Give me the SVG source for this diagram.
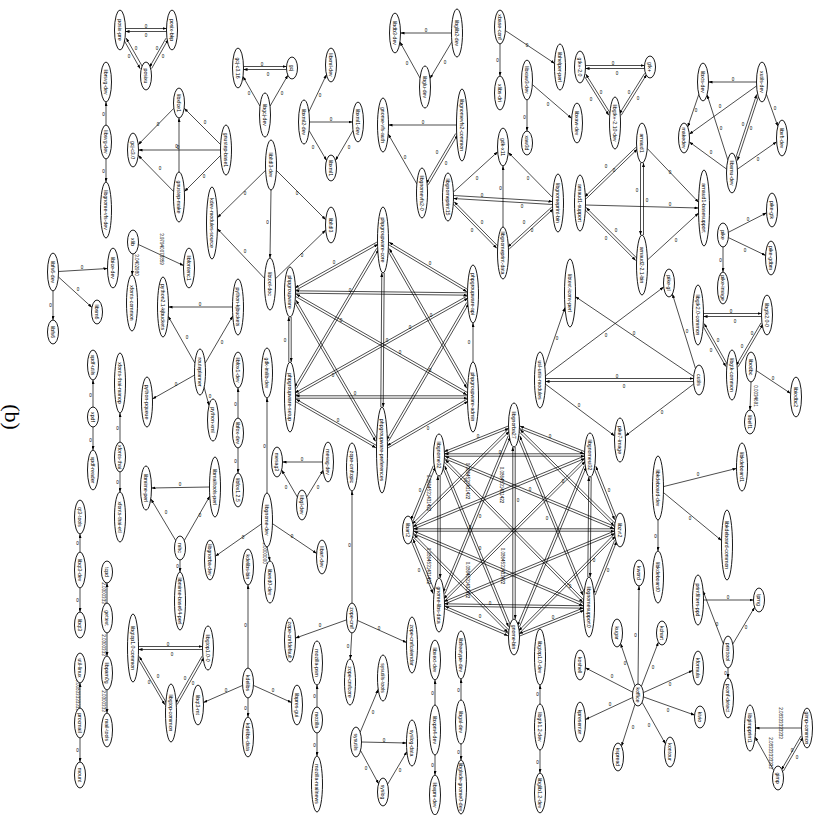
<svg xmlns="http://www.w3.org/2000/svg" width="820" height="815" viewBox="0 0 820 815">
<style>
.n ellipse{fill:#fff;stroke:#000;stroke-width:0.9}
.n text{font-family:"Liberation Sans",Arial,sans-serif;font-size:5.2px;text-anchor:middle;dominant-baseline:central;fill:#000}
#edges path{stroke:#000;stroke-width:0.7;fill:none;marker-end:url(#ah)}
.l{font-family:"Liberation Sans",Arial,sans-serif;font-size:4.5px;fill:#000;text-anchor:middle;dominant-baseline:central}
.cap{font-family:"Liberation Serif","Times New Roman",serif;font-size:22px;text-anchor:middle;dominant-baseline:central}
</style>
<defs>
<marker id="ah" markerWidth="4" markerHeight="3" refX="4" refY="1.5" orient="auto" markerUnits="userSpaceOnUse"><path d="M0,0L4,1.5L0,3z" fill="#000"/></marker>
</defs>
<rect width="820" height="815" fill="#fff"/>
<text class="cap" transform="translate(12 417) rotate(90)">(b)</text>
<g id="edges">
<path d="M125.5 28.5L166.5 28.5"/><path d="M166.5 31.5L125.5 31.5"/>
<path d="M123.6 39.5L140.2 68.7"/><path d="M142.8 67.3L126.2 38.1"/>
<path d="M166 38.2L149.4 67.4"/><path d="M151.6 68.6L168.2 39.4"/>
<path d="M106 125L106 102"/><path d="M106 159L106 182"/>
<path d="M179 172L179 118"/><path d="M173.6 191.5L138.2 155.3"/><path d="M173.8 108.3L138.2 144.7"/>
<path d="M220.6 144.6L184.2 108.2"/><path d="M220.5 150L138.5 150"/><path d="M220.6 155.4L184.4 191.6"/>
<path d="M138.4 244.5L183.5 265.5"/><path d="M133 254L132.2 275"/>
<path d="M58.5 271.5L107.5 268.5"/><path d="M58.3 276.8L91.9 307.4"/><path d="M53 291L53 320"/>
<path d="M243.5 66.5L286.5 66.5"/><path d="M286.5 69.5L243.5 69.5"/>
<path d="M260 106.2L243 76.6"/><path d="M270 106.2L287.9 75.2"/>
<path d="M308.9 111.7L326.5 74.6"/><path d="M309.5 122L352.5 122"/><path d="M309.1 130.6L326.5 160.4"/><path d="M353 130.5L335.5 160.4"/>
<path d="M456.5 125L388.5 125"/><path d="M416.9 184L388.2 134"/>
<path d="M428.2 184.8L457.7 134.7"/><path d="M455.7 133.5L426.2 183.6"/>
<path d="M265.6 170.3L217.4 217.7"/><path d="M276.4 170.4L325.7 219.7"/><path d="M271 190L270 258"/>
<path d="M264.6 278.4L217.4 228.7"/><path d="M275.4 278.8L325.7 230.1"/>
<path d="M451.5 33L400.5 33"/><path d="M420 78L399.9 41.9"/><path d="M451.9 41.7L430 78.5"/>
<path d="M500 44L500 76"/><path d="M505.4 30.6L554.6 63.4"/>
<path d="M532.4 84.6L571.6 118.4"/><path d="M527 100L527 131"/>
<path d="M585.5 65.5L644.5 65.5"/><path d="M644.5 68.5L585.5 68.5"/>
<path d="M610.8 114.1L585.8 74.1"/><path d="M583.8 75.3L608.8 115.3"/>
<path d="M621.2 115.3L646.7 74.5"/><path d="M644.7 73.3L619.2 114.1"/>
<path d="M453.4 192.1L497.7 151.8"/><path d="M552.6 197.5L508.3 152.4"/><path d="M503 227L503 166"/>
<path d="M453.5 195.5L552.5 201.5"/><path d="M552.5 204.5L453.5 198.5"/>
<path d="M452.5 203.3L496.8 248.3"/><path d="M498.5 246.7L454.2 201.7"/>
<path d="M551.8 207L507.6 247.2"/><path d="M509.2 249L553.4 208.8"/>
<path d="M586.2 198.7L637.5 149"/><path d="M635.9 147.3L584.6 196.9"/>
<path d="M584.5 209.3L635.7 260.5"/><path d="M637.5 258.8L586.2 207.6"/>
<path d="M585.5 205L698.5 208"/>
<path d="M640.5 163L640.5 235"/><path d="M643.5 235L643.5 163"/>
<path d="M647.3 148.5L698.6 202.3"/><path d="M647.4 260L698.6 213"/>
<path d="M756.5 82L708.5 82"/><path d="M756.6 85.9L689.3 134.2"/>
<path d="M758.9 95.2L737.4 160.6"/><path d="M735.1 159.8L756.7 94.4"/>
<path d="M766.4 94.2L777.8 126.3"/><path d="M698.8 94.4L687.7 127"/><path d="M727.8 159.9L707.1 94.8"/>
<path d="M726.6 169.1L689.3 141.9"/><path d="M737.4 169.2L776.6 141.8"/>
<path d="M728.4 232.3L766.6 212.8"/><path d="M728.4 237.6L765.6 255.4"/><path d="M723 247L723 272"/>
<path d="M544.8 366.1L565 307.5"/><path d="M693.7 376.4L575.5 296.7"/><path d="M545.4 375.9L663.7 287"/><path d="M695.5 368.5L672.4 294"/>
<path d="M545.5 378.5L693.5 378.5"/><path d="M693.5 381.5L545.5 381.5"/>
<path d="M545.4 384.1L614.6 435.9"/><path d="M693.7 384L625.4 435.9"/>
<path d="M703.5 313.5L761.5 313.5"/><path d="M761.5 316.5L703.5 316.5"/>
<path d="M727.9 365.4L704.2 323.6"/><path d="M702.2 324.8L725.9 366.6"/>
<path d="M738.1 366.8L763 324.1"/><path d="M761 322.9L736.1 365.6"/>
<path d="M751 382L750 410"/><path d="M756.3 370.6L790.6 393.4"/>
<path d="M663.5 486.6L736.5 468.4"/><path d="M663.4 492.5L721.5 540.5"/><path d="M658 520L658 551"/>
<path d="M376.9 242.1L294.9 288"/><path d="M296.1 290.1L378.1 244.2"/>
<path d="M376.7 248.3L294.3 387.4"/><path d="M296.3 388.6L378.7 249.5"/>
<path d="M384.2 273L383.2 407"/><path d="M380.8 407L381.8 273"/>
<path d="M387.3 249.8L466.7 388.3"/><path d="M468.7 387.1L389.3 248.6"/>
<path d="M387.9 244.3L466.9 291.7"/><path d="M468.1 289.7L389.1 242.3"/>
<path d="M291.2 317L291.2 362"/><path d="M288.8 362L288.8 317"/>
<path d="M294.1 301.4L375.6 441.4"/><path d="M377.6 440.2L296.1 300.2"/>
<path d="M294.9 296.1L466.9 394.9"/><path d="M468.1 392.9L296.1 294.1"/>
<path d="M295.5 293.2L467.5 295.2"/><path d="M467.5 292.8L295.5 290.8"/>
<path d="M294.9 401.2L375.9 447.8"/><path d="M377.1 445.8L296.1 399.2"/>
<path d="M295.5 398.2L467.5 398.2"/><path d="M467.5 395.8L295.5 395.8"/>
<path d="M296.1 394.9L468.1 298.1"/><path d="M466.9 296.1L294.9 392.9"/>
<path d="M388.1 447.8L468.1 401.2"/><path d="M466.9 399.2L386.9 445.8"/>
<path d="M388.4 441.4L468.8 303.6"/><path d="M466.8 302.4L386.4 440.2"/>
<path d="M473 362L473 323"/>
<path d="M508.1 426.1L444.1 451.7"/><path d="M444.9 453.9L508.9 428.3"/>
<path d="M519.1 428.3L584.1 453.9"/><path d="M584.9 451.7L519.9 426.1"/>
<path d="M507.9 429.5L412.3 524"/><path d="M413.9 525.8L509.5 431.2"/>
<path d="M518.5 431.2L614 525.7"/><path d="M615.6 523.9L520.1 429.5"/>
<path d="M508.2 435.8L442.8 592.6"/><path d="M445 593.6L510.4 436.8"/>
<path d="M517.6 436.9L582.9 595.3"/><path d="M585.1 594.3L519.8 435.9"/>
<path d="M515.2 447L515.2 619"/><path d="M512.8 619L512.8 447"/>
<path d="M444.5 456.2L584.5 456.2"/><path d="M584.5 453.8L444.5 453.8"/>
<path d="M433.3 465.7L410.9 519.9"/><path d="M413.1 520.9L435.5 466.7"/>
<path d="M444 458.4L614.1 528.8"/><path d="M615.1 526.6L445 456.2"/>
<path d="M440.2 476L440.2 578"/><path d="M437.8 578L437.8 476"/>
<path d="M443.5 461.2L582.8 602.3"/><path d="M584.5 600.7L445.2 459.6"/>
<path d="M442.5 466.8L508.5 626.8"/><path d="M510.7 625.8L444.7 465.8"/>
<path d="M584 456.2L412.9 526.7"/><path d="M413.9 528.9L585 458.4"/>
<path d="M593.6 467.2L614.6 519.8"/><path d="M616.8 518.8L595.8 466.2"/>
<path d="M583.9 459.5L443.6 598.8"/><path d="M445.2 600.5L585.5 461.2"/>
<path d="M591.2 477L590.2 577"/><path d="M587.8 577L588.8 477"/>
<path d="M584.2 465.8L517.3 625.9"/><path d="M519.5 626.9L586.4 466.8"/>
<path d="M413.5 531.2L614.5 531.2"/><path d="M614.5 528.8L413.5 528.8"/>
<path d="M410.9 540.1L433 593.6"/><path d="M435.2 592.6L413.1 539.1"/>
<path d="M412.9 533.4L583 605.8"/><path d="M584 603.6L413.9 531.2"/>
<path d="M412.3 536L507.9 632.5"/><path d="M509.6 630.9L414 534.4"/>
<path d="M614 531.2L444 601.6"/><path d="M445 603.8L615 533.4"/>
<path d="M614.6 540.3L592.9 594.2"/><path d="M595.1 595.1L616.8 541.2"/>
<path d="M614 534.5L518.5 630.9"/><path d="M520.2 632.5L615.7 536.1"/>
<path d="M444.5 606.2L583.5 608.2"/><path d="M583.5 605.8L444.5 603.8"/>
<path d="M444 608.4L508 635.8"/><path d="M509 633.6L445 606.2"/>
<path d="M583 608.1L519 633.7"/><path d="M520 635.9L584 610.3"/>
<path d="M194.9 363.1L168.2 316.2"/><path d="M194.5 375.1L152.5 398.9"/><path d="M232.5 307L168.5 307"/>
<path d="M205.1 363.3L232.8 315.9"/><path d="M204.1 387.2L209 405.4"/>
<path d="M238 418L238 388"/><path d="M238 448L238 473"/>
<path d="M93 407L93 380"/><path d="M93 427L93 450"/>
<path d="M120 442L120 413"/><path d="M120 472L120 492"/>
<path d="M209.5 487L151.5 488"/><path d="M175.7 540.5L151 499.1"/><path d="M184.3 540.5L209.8 496.1"/><path d="M180 560L180 572"/>
<path d="M80 552L80 534"/><path d="M80 588L80 612"/>
<path d="M107 603L107 583"/><path d="M107 633L107 656"/><path d="M107 690L107 713"/>
<path d="M80 708L80 683"/><path d="M80 738L80 762"/>
<path d="M138.5 646.5L202.5 646.5"/><path d="M202.5 649.5L138.5 649.5"/>
<path d="M166.8 703.5L139.3 656.5"/><path d="M137.3 657.7L164.8 704.7"/>
<path d="M177.1 704.6L204 657.4"/><path d="M202 656.2L175.1 703.4"/>
<path d="M248 668L248 585"/><path d="M248 698L248 717"/><path d="M253.4 685.4L291.5 702.5"/><path d="M242.6 685.4L203.5 702.5"/>
<path d="M267 493L267 398"/><path d="M261.6 523.8L215.4 556.2"/><path d="M272.5 523.7L316.6 553.4"/><path d="M267.1 547L269.9 561"/>
<path d="M322.5 462L282.5 462"/><path d="M297.3 497L281.7 470"/><path d="M306.7 497.2L323 470.3"/>
<path d="M352 603L352 491"/><path d="M346.5 619.9L295.5 638.1"/><path d="M351.8 633L350.3 659"/><path d="M357.4 620.4L406.5 642.5"/>
<path d="M317 707L317 685"/><path d="M317 733L317 756"/>
<path d="M360.2 732.2L378.2 689.3"/><path d="M361.5 742L406.5 743"/><path d="M360.5 750.4L378.6 783.8"/><path d="M387.6 784.3L406.9 751.6"/>
<path d="M435 705L435 680"/><path d="M435 755L435 775"/>
<path d="M461 700L461 679"/><path d="M461 744L461 760"/>
<path d="M540 704L540 685"/><path d="M540 750L540 773"/>
<path d="M638 684L639 586"/><path d="M634.9 685.9L620.6 643.6"/><path d="M641.4 686.3L658.4 642.2"/>
<path d="M643.4 692.6L692.6 670.4"/><path d="M643.4 696.9L694.6 715.1"/><path d="M642.1 702.3L665.4 743.8"/>
<path d="M635 704.2L621.5 746.2"/><path d="M632.6 697.5L585.5 719.5"/><path d="M632.7 692.2L585.4 667.8"/>
<path d="M703.5 600L753.5 600"/><path d="M723.3 643.8L703.1 591.1"/><path d="M732.8 644L754.6 607.3"/><path d="M728 668L728 678"/>
<path d="M801.5 728L755.5 728"/><path d="M773.7 770.4L755.1 737"/>
<path d="M783.3 771.2L803 737.2"/><path d="M801 736L781.3 770"/>
</g>
<g id="edge-labels">
<text class="l" x="146" y="26">0</text><text class="l" x="146" y="35">0</text>
<text class="l" x="136" y="48">0</text><text class="l" x="129" y="56">0</text>
<text class="l" x="157" y="48">0</text><text class="l" x="163" y="56">0</text>
<text class="l" x="103.5" y="114">0</text><text class="l" x="103.5" y="171">0</text>
<text class="l" x="176.5" y="146">0</text><text class="l" x="160" y="168">0</text><text class="l" x="158" y="124">0</text>
<text class="l" x="205" y="122">0</text><text class="l" x="178" y="147.5">0</text><text class="l" x="204" y="176">0</text>
<text class="l" transform="translate(161 249) rotate(90)">3.97940073859</text>
<text class="l" transform="translate(136.5 265) rotate(90)">3.0402980</text>
<text class="l" x="82" y="267">0</text><text class="l" x="78" y="289">0</text><text class="l" x="50.5" y="305">0</text>
<text class="l" x="262" y="64">0</text><text class="l" x="268" y="74.5">0</text>
<text class="l" x="249" y="93">0</text><text class="l" x="282" y="93">0</text>
<text class="l" x="320" y="95">0</text><text class="l" x="331" y="119.5">0</text><text class="l" x="313" y="147">0</text><text class="l" x="349" y="147">0</text>
<text class="l" x="423" y="122.5">0</text><text class="l" x="405" y="157">0</text>
<text class="l" x="446" y="163">0</text><text class="l" x="437" y="152">0</text>
<text class="l" x="245" y="193">0</text><text class="l" x="297" y="193">0</text><text class="l" x="267.5" y="222">0</text>
<text class="l" x="245" y="251">0</text><text class="l" x="302" y="255">0</text>
<text class="l" x="426" y="30.5">0</text><text class="l" x="407" y="63">0</text><text class="l" x="445" y="62">0</text>
<text class="l" x="497.5" y="60">0</text><text class="l" x="527" y="45">0</text>
<text class="l" x="548" y="104">0</text><text class="l" x="524.5" y="117">0</text>
<text class="l" x="613" y="63">0</text><text class="l" x="617" y="73">0</text>
<text class="l" x="601" y="92">0</text><text class="l" x="591" y="99">0</text>
<text class="l" x="629" y="92">0</text><text class="l" x="638" y="98">0</text>
<text class="l" x="477" y="178">0</text><text class="l" x="528" y="178">0</text><text class="l" x="500.5" y="188">0</text>
<text class="l" x="482" y="195">0</text><text class="l" x="522" y="206">0</text>
<text class="l" x="472" y="230">0</text><text class="l" x="482" y="222">0</text>
<text class="l" x="532" y="230">0</text><text class="l" x="524" y="222">0</text>
<text class="l" x="614" y="170">0</text><text class="l" x="606" y="166">0</text>
<text class="l" x="606" y="238">0</text><text class="l" x="616" y="230">0</text>
<text class="l" x="670" y="204">0</text>
<text class="l" x="637" y="190">0</text><text class="l" x="647" y="200">0</text>
<text class="l" x="670" y="172">0</text><text class="l" x="676" y="240">0</text>
<text class="l" x="733" y="79">0</text><text class="l" x="720" y="106">0</text>
<text class="l" x="751" y="128">0</text><text class="l" x="743" y="124">0</text>
<text class="l" x="775" y="108">0</text><text class="l" x="696" y="110">0</text><text class="l" x="721" y="128">0</text>
<text class="l" x="711" y="152">0</text><text class="l" x="758" y="159">0</text>
<text class="l" x="748" y="219">0</text><text class="l" x="745" y="250">0</text><text class="l" x="720.5" y="260">0</text>
<text class="l" x="557" y="338">0</text><text class="l" x="634" y="333">0</text><text class="l" x="606" y="335">0</text><text class="l" x="687" y="331">0</text>
<text class="l" x="617" y="376">0</text><text class="l" x="624" y="386">0</text>
<text class="l" x="579" y="405">0</text><text class="l" x="662" y="412">0</text>
<text class="l" x="731" y="311">0</text><text class="l" x="735" y="321">0</text>
<text class="l" x="718" y="340">0</text><text class="l" x="711" y="350">0</text>
<text class="l" x="752" y="333">0</text><text class="l" x="742" y="346">0</text>
<text class="l" transform="translate(755.5 396) rotate(90)">0.0034691</text>
<text class="l" x="773" y="378">0</text>
<text class="l" x="698" y="474">0</text><text class="l" x="690" y="518">0</text><text class="l" x="655.5" y="536">0</text>
<text class="l" x="334" y="262">0</text><text class="l" x="341" y="320">0</text><text class="l" x="387" y="340">0</text>
<text class="l" x="431" y="315">0</text><text class="l" x="430" y="263">0</text><text class="l" x="285" y="340">0</text>
<text class="l" x="333" y="375">0</text><text class="l" x="400" y="352">0</text><text class="l" x="350" y="290">0</text>
<text class="l" x="338" y="420">0</text><text class="l" x="355" y="393">0</text><text class="l" x="410" y="327">0</text>
<text class="l" x="428" y="428">0</text><text class="l" x="430" y="370">0</text><text class="l" x="469" y="342">0</text>
<text class="l" x="478" y="436">0</text><text class="l" x="550" y="436">0</text><text class="l" x="465" y="480">0</text>
<text class="l" x="563" y="481">0</text><text class="l" x="480" y="516">0</text><text class="l" x="547" y="518">0</text>
<text class="l" x="518" y="500">0</text><text class="l" x="500" y="452">0</text><text class="l" x="420" y="490">0</text>
<text class="l" x="530" y="489">0</text><text class="l" x="480" y="548">0</text><text class="l" x="609" y="490">0</text>
<text class="l" x="594" y="560">0</text><text class="l" x="470" y="527">0</text><text class="l" x="419" y="570">0</text>
<text class="l" x="608" y="570">0</text><text class="l" x="570" y="586">0</text><text class="l" x="490" y="603">0</text>
<text class="l" x="480" y="616">0</text><text class="l" x="553" y="617">0</text>
<text class="l" transform="translate(428 493) rotate(90)">0.0864531431422</text>
<text class="l" transform="translate(428 566) rotate(90)">0.0864531431422</text>
<text class="l" transform="translate(467 481) rotate(90)">0.0864531431422</text>
<text class="l" transform="translate(467 580) rotate(90)">0.0864531431422</text>
<text class="l" transform="translate(501 485) rotate(90)">0.0864531431422</text>
<text class="l" transform="translate(502 566) rotate(90)">0.0864531431422</text>
<text class="l" x="187" y="337">0</text><text class="l" x="176" y="384">0</text><text class="l" x="200" y="304">0</text>
<text class="l" x="222" y="342">0</text><text class="l" x="210" y="396">0</text>
<text class="l" x="235.5" y="404">0</text><text class="l" x="235.5" y="461">0</text>
<text class="l" x="90.5" y="395">0</text><text class="l" x="90.5" y="440">0</text>
<text class="l" x="117.5" y="428">0</text><text class="l" x="117.5" y="482">0</text>
<text class="l" x="180" y="484.5">0</text><text class="l" x="166" y="512">0</text><text class="l" x="200" y="515">0</text><text class="l" x="177.5" y="566">0</text>
<text class="l" x="77.5" y="543">0</text><text class="l" x="77.5" y="600">0</text>
<text class="l" transform="translate(103.5 593) rotate(90)">2.0300333</text>
<text class="l" transform="translate(103.5 645) rotate(90)">2.0300333</text>
<text class="l" transform="translate(103.5 701) rotate(90)">2.0300333</text>
<text class="l" transform="translate(77 695) rotate(90)">0.00833333333</text>
<text class="l" x="77.5" y="750">0</text>
<text class="l" x="168" y="644">0</text><text class="l" x="172" y="654.5">0</text>
<text class="l" x="149" y="682">0</text><text class="l" x="158" y="676">0</text>
<text class="l" x="193" y="683">0</text><text class="l" x="185" y="678">0</text>
<text class="l" x="245.5" y="625">0</text><text class="l" x="245.5" y="708">0</text><text class="l" x="273" y="690">0</text><text class="l" x="226" y="690">0</text>
<text class="l" x="264.5" y="446">0</text><text class="l" x="243" y="537">0</text><text class="l" x="292" y="536">0</text>
<text class="l" transform="translate(264.5 553) rotate(90)">1.0000000</text>
<text class="l" x="302" y="459.5">0</text><text class="l" x="286" y="487">0</text><text class="l" x="318" y="487">0</text>
<text class="l" x="349.5" y="545">0</text><text class="l" x="320" y="625">0</text><text class="l" x="348" y="646">0</text><text class="l" x="379" y="628">0</text>
<text class="l" x="314.5" y="696">0</text><text class="l" x="314.5" y="745">0</text>
<text class="l" x="373" y="712">0</text><text class="l" x="384" y="740">0</text><text class="l" x="366" y="768">0</text><text class="l" x="400" y="770">0</text>
<text class="l" x="432.5" y="693">0</text><text class="l" x="432.5" y="765">0</text>
<text class="l" x="458.5" y="690">0</text><text class="l" x="458.5" y="752">0</text>
<text class="l" x="537.5" y="694">0</text><text class="l" x="537.5" y="762">0</text>
<text class="l" x="635.5" y="635">0</text><text class="l" x="625" y="663">0</text><text class="l" x="653" y="667">0</text>
<text class="l" x="670" y="684">0</text><text class="l" x="668" y="710">0</text><text class="l" x="649" y="725">0</text>
<text class="l" x="633" y="727">0</text><text class="l" x="610" y="704">0</text><text class="l" x="612" y="676">0</text>
<text class="l" x="728" y="597.5">0</text><text class="l" x="717" y="624">0</text><text class="l" x="746" y="627">0</text><text class="l" x="725.5" y="673">0</text>
<text class="l" transform="translate(780 723) rotate(90)">2.08333333333</text>
<text class="l" transform="translate(770 753) rotate(90)">2.08333333333</text>
<text class="l" x="792" y="750">0</text><text class="l" x="797" y="757">0</text>
</g>
<g id="n-posix-pre" class="n" transform="translate(120 30)"><ellipse rx="5.5" ry="20"/><text transform="rotate(90)">posix-pre</text></g>
<g id="n-posix-bkp" class="n" transform="translate(172 30)"><ellipse rx="5.5" ry="20"/><text transform="rotate(90)">posix-bkp</text></g>
<g id="n-posixu" class="n" transform="translate(146 76)"><ellipse rx="5.5" ry="14"/><text transform="rotate(90)">posixu</text></g>
<g id="n-librsvg-dev" class="n" transform="translate(106 82)"><ellipse rx="5.5" ry="20"/><text transform="rotate(90)">librsvg-dev</text></g>
<g id="n-libsvg-dev" class="n" transform="translate(106 142)"><ellipse rx="5.5" ry="17"/><text transform="rotate(90)">libsvg-dev</text></g>
<g id="n-libgnome-vfs-dev" class="n" transform="translate(106 210)"><ellipse rx="5.5" ry="28"/><text transform="rotate(90)">libgnome-vfs-dev</text></g>
<g id="n-libxfce1" class="n" transform="translate(179 103)"><ellipse rx="5.5" ry="15"/><text transform="rotate(90)">libxfce1</text></g>
<g id="n-gcj-c3-0" class="n" transform="translate(133 150)"><ellipse rx="5.5" ry="17"/><text transform="rotate(90)">gcj-c3.0</text></g>
<g id="n-gnustep-make" class="n" transform="translate(179 197)"><ellipse rx="5.5" ry="25"/><text transform="rotate(90)">gnustep-make</text></g>
<g id="n-gnustep-base1" class="n" transform="translate(226 150)"><ellipse rx="5.5" ry="25"/><text transform="rotate(90)">gnustep-base1</text></g>
<g id="n-xlib" class="n" transform="translate(133 242)"><ellipse rx="5.5" ry="12"/><text transform="rotate(90)">xlib</text></g>
<g id="n-libfontenc1" class="n" transform="translate(189 268)"><ellipse rx="5.5" ry="20"/><text transform="rotate(90)">libfontenc1</text></g>
<g id="n-xfonts-common" class="n" transform="translate(132 303)"><ellipse rx="5.5" ry="28"/><text transform="rotate(90)">xfonts-common</text></g>
<g id="n-libfs6-dev" class="n" transform="translate(53 272)"><ellipse rx="5.5" ry="19"/><text transform="rotate(90)">libfs6-dev</text></g>
<g id="n-libice-dev" class="n" transform="translate(113 268)"><ellipse rx="5.5" ry="20"/><text transform="rotate(90)">libice-dev</text></g>
<g id="n-libsm6" class="n" transform="translate(97 312)"><ellipse rx="5.5" ry="12"/><text transform="rotate(90)">libsm6</text></g>
<g id="n-libfs6" class="n" transform="translate(53 332)"><ellipse rx="5.5" ry="12"/><text transform="rotate(90)">libfs6</text></g>
<g id="n-gcj-c3-16" class="n" transform="translate(238 68)"><ellipse rx="5.5" ry="20"/><text transform="rotate(90)">gcj-c3.16</text></g>
<g id="n-gcj" class="n" transform="translate(292 68)"><ellipse rx="5.5" ry="11"/><text transform="rotate(90)">gcj</text></g>
<g id="n-libgcj-dev" class="n" transform="translate(265 115)"><ellipse rx="5.5" ry="22"/><text transform="rotate(90)">libgcj-dev</text></g>
<g id="n-libxml-dev" class="n" transform="translate(331 65)"><ellipse rx="5.5" ry="17"/><text transform="rotate(90)">libxml-dev</text></g>
<g id="n-libxml2-dev" class="n" transform="translate(304 122)"><ellipse rx="5.5" ry="22"/><text transform="rotate(90)">libxml2-dev</text></g>
<g id="n-libxml1-dev" class="n" transform="translate(358 122)"><ellipse rx="5.5" ry="20"/><text transform="rotate(90)">libxml1-dev</text></g>
<g id="n-libxml1" class="n" transform="translate(331 168)"><ellipse rx="5.5" ry="13"/><text transform="rotate(90)">libxml1</text></g>
<g id="n-gnome-vfs-auth" class="n" transform="translate(383 125)"><ellipse rx="5.5" ry="27"/><text transform="rotate(90)">gnome-vfs-auth</text></g>
<g id="n-libltdl3-dev" class="n" transform="translate(271 165)"><ellipse rx="5.5" ry="25"/><text transform="rotate(90)">libltdl3-dev</text></g>
<g id="n-kdev-modules-source" class="n" transform="translate(212 223)"><ellipse rx="5.5" ry="36"/><text transform="rotate(90)">kdev-modules-source</text></g>
<g id="n-libltdl3" class="n" transform="translate(331 225)"><ellipse rx="5.5" ry="18"/><text transform="rotate(90)">libltdl3</text></g>
<g id="n-libtool-doc" class="n" transform="translate(270 284)"><ellipse rx="5.5" ry="26"/><text transform="rotate(90)">libtool-doc</text></g>
<g id="n-libdb3-dev" class="n" transform="translate(395 33)"><ellipse rx="5.5" ry="20"/><text transform="rotate(90)">libdb3-dev</text></g>
<g id="n-libglib2-dev" class="n" transform="translate(457 33)"><ellipse rx="5.5" ry="24"/><text transform="rotate(90)">libglib2-dev</text></g>
<g id="n-libglu-dev" class="n" transform="translate(425 87)"><ellipse rx="5.5" ry="21"/><text transform="rotate(90)">libglu-dev</text></g>
<g id="n-xbase-conf" class="n" transform="translate(500 27)"><ellipse rx="5.5" ry="17"/><text transform="rotate(90)">xbase-conf</text></g>
<g id="n-xlibs-dri" class="n" transform="translate(500 93)"><ellipse rx="5.5" ry="17"/><text transform="rotate(90)">xlibs-dri</text></g>
<g id="n-libhelper-perl" class="n" transform="translate(560 67)"><ellipse rx="5.5" ry="23"/><text transform="rotate(90)">libhelper-perl</text></g>
<g id="n-libxaw3-dev" class="n" transform="translate(527 80)"><ellipse rx="5.5" ry="20"/><text transform="rotate(90)">libxaw3-dev</text></g>
<g id="n-libxaw-dev" class="n" transform="translate(577 123)"><ellipse rx="5.5" ry="20"/><text transform="rotate(90)">libxaw-dev</text></g>
<g id="n-xaw3d" class="n" transform="translate(527 143)"><ellipse rx="5.5" ry="12"/><text transform="rotate(90)">xaw3d</text></g>
<g id="n-gtk-2-0" class="n" transform="translate(580 67)"><ellipse rx="5.5" ry="16"/><text transform="rotate(90)">gtk+-2.0</text></g>
<g id="n-gtk" class="n" transform="translate(650 67)"><ellipse rx="5.5" ry="11"/><text transform="rotate(90)">gtk+</text></g>
<g id="n-libgtk-2-10-dev" class="n" transform="translate(615 123)"><ellipse rx="5.5" ry="26"/><text transform="rotate(90)">libgtk+-2.10-dev</text></g>
<g id="n-libgnomevfs2-common" class="n" transform="translate(462 125)"><ellipse rx="5.5" ry="36"/><text transform="rotate(90)">libgnomevfs2-common</text></g>
<g id="n-libgnomevfs2-0" class="n" transform="translate(422 193)"><ellipse rx="5.5" ry="25"/><text transform="rotate(90)">libgnomevfs2-0</text></g>
<g id="n-gdk-x11" class="n" transform="translate(503 147)"><ellipse rx="5.5" ry="19"/><text transform="rotate(90)">gdk-x11</text></g>
<g id="n-libgnomeprint15" class="n" transform="translate(448 197)"><ellipse rx="5.5" ry="24"/><text transform="rotate(90)">libgnomeprint15</text></g>
<g id="n-libgnomeprint-bin" class="n" transform="translate(558 203)"><ellipse rx="5.5" ry="29"/><text transform="rotate(90)">libgnomeprint-bin</text></g>
<g id="n-libgnomeprint-data" class="n" transform="translate(503 253)"><ellipse rx="5.5" ry="26"/><text transform="rotate(90)">libgnomeprint-data</text></g>
<g id="n-arnaud1-support" class="n" transform="translate(580 203)"><ellipse rx="5.5" ry="28"/><text transform="rotate(90)">arnaud1-support</text></g>
<g id="n-arnaud1" class="n" transform="translate(642 143)"><ellipse rx="5.5" ry="20"/><text transform="rotate(90)">arnaud1</text></g>
<g id="n-arnaud2" class="n" transform="translate(642 265)"><ellipse rx="5.5" ry="30"/><text transform="rotate(90)">arnaud2-2.1-bin</text></g>
<g id="n-arnaud1-basesupport" class="n" transform="translate(704 208)"><ellipse rx="5.5" ry="38"/><text transform="rotate(90)">arnaud1-basesupport</text></g>
<g id="n-libxts-dev" class="n" transform="translate(703 82)"><ellipse rx="5.5" ry="19"/><text transform="rotate(90)">libxts-dev</text></g>
<g id="n-xutils-dev" class="n" transform="translate(762 82)"><ellipse rx="5.5" ry="20"/><text transform="rotate(90)">xutils-dev</text></g>
<g id="n-makedev" class="n" transform="translate(684 138)"><ellipse rx="5.5" ry="15"/><text transform="rotate(90)">makedev</text></g>
<g id="n-libxmu-dev" class="n" transform="translate(732 173)"><ellipse rx="5.5" ry="20"/><text transform="rotate(90)">libxmu-dev</text></g>
<g id="n-libxft-dev" class="n" transform="translate(782 138)"><ellipse rx="5.5" ry="18"/><text transform="rotate(90)">libxft-dev</text></g>
<g id="n-pike" class="n" transform="translate(723 235)"><ellipse rx="5.5" ry="12"/><text transform="rotate(90)">pike</text></g>
<g id="n-pike-gtk" class="n" transform="translate(772 210)"><ellipse rx="5.5" ry="17"/><text transform="rotate(90)">pike-gtk</text></g>
<g id="n-pike-gdbm" class="n" transform="translate(771 258)"><ellipse rx="5.5" ry="17"/><text transform="rotate(90)">pike-gdbm</text></g>
<g id="n-pike-image" class="n" transform="translate(723 288)"><ellipse rx="5.5" ry="16"/><text transform="rotate(90)">pike-image</text></g>
<g id="n-libtext-iconv-perl" class="n" transform="translate(570 293)"><ellipse rx="5.5" ry="34"/><text transform="rotate(90)">libtext-iconv-perl</text></g>
<g id="n-pike-gl" class="n" transform="translate(669 283)"><ellipse rx="5.5" ry="14"/><text transform="rotate(90)">pike-gl</text></g>
<g id="n-libgtk2-0-common" class="n" transform="translate(698 315)"><ellipse rx="5.5" ry="30"/><text transform="rotate(90)">libgtk2.0-common</text></g>
<g id="n-libgtk2-0-0" class="n" transform="translate(767 315)"><ellipse rx="5.5" ry="20"/><text transform="rotate(90)">libgtk2.0-0</text></g>
<g id="n-libgtk-common" class="n" transform="translate(732 375)"><ellipse rx="5.5" ry="25"/><text transform="rotate(90)">libgtk-common</text></g>
<g id="n-cutils" class="n" transform="translate(699 380)"><ellipse rx="5.5" ry="15"/><text transform="rotate(90)">cutils</text></g>
<g id="n-libodbc" class="n" transform="translate(751 367)"><ellipse rx="5.5" ry="15"/><text transform="rotate(90)">libodbc</text></g>
<g id="n-libelf1" class="n" transform="translate(750 422)"><ellipse rx="5.5" ry="12"/><text transform="rotate(90)">libelf1</text></g>
<g id="n-libiodbc2" class="n" transform="translate(796 397)"><ellipse rx="5.5" ry="20"/><text transform="rotate(90)">libiodbc2</text></g>
<g id="n-pike7-image" class="n" transform="translate(620 440)"><ellipse rx="5.5" ry="22"/><text transform="rotate(90)">pike7-image</text></g>
<g id="n-usl-unix-modules" class="n" transform="translate(540 380)"><ellipse rx="5.5" ry="28"/><text transform="rotate(90)">usl-unix-modules</text></g>
<g id="n-libkdeboard-dev" class="n" transform="translate(658 488)"><ellipse rx="5.5" ry="32"/><text transform="rotate(90)">libkdeboard-dev</text></g>
<g id="n-libkdeboard1" class="n" transform="translate(742 467)"><ellipse rx="5.5" ry="24"/><text transform="rotate(90)">libkdeboard1</text></g>
<g id="n-libkdeboard-common" class="n" transform="translate(727 545)"><ellipse rx="5.5" ry="35"/><text transform="rotate(90)">libkdeboard-common</text></g>
<g id="n-libkdeboard0" class="n" transform="translate(658 577)"><ellipse rx="5.5" ry="26"/><text transform="rotate(90)">libkdeboard0</text></g>
<g id="n-phpgroupware-core" class="n" transform="translate(383 240)"><ellipse rx="5.5" ry="33"/><text transform="rotate(90)">phpgroupware-core</text></g>
<g id="n-phpgroupware" class="n" transform="translate(290 292)"><ellipse rx="5.5" ry="25"/><text transform="rotate(90)">phpgroupware</text></g>
<g id="n-phpgroupware-setup" class="n" transform="translate(290 397)"><ellipse rx="5.5" ry="35"/><text transform="rotate(90)">phpgroupware-setup</text></g>
<g id="n-phpgroupware-preferences" class="n" transform="translate(382 450)"><ellipse rx="5.5" ry="43"/><text transform="rotate(90)">phpgroupware-preferences</text></g>
<g id="n-phpgroupware-admin" class="n" transform="translate(473 397)"><ellipse rx="5.5" ry="35"/><text transform="rotate(90)">phpgroupware-admin</text></g>
<g id="n-phpgroupware-api" class="n" transform="translate(473 294)"><ellipse rx="5.5" ry="29"/><text transform="rotate(90)">phpgroupware-api</text></g>
<g id="n-libgnorba27" class="n" transform="translate(514 425)"><ellipse rx="5.5" ry="22"/><text transform="rotate(90)">libgnorba27</text></g>
<g id="n-libgnome32" class="n" transform="translate(439 455)"><ellipse rx="5.5" ry="21"/><text transform="rotate(90)">libgnome32</text></g>
<g id="n-libgnomeui32" class="n" transform="translate(590 455)"><ellipse rx="5.5" ry="22"/><text transform="rotate(90)">libgnomeui32</text></g>
<g id="n-libart2" class="n" transform="translate(408 530)"><ellipse rx="5.5" ry="14"/><text transform="rotate(90)">libart2</text></g>
<g id="n-libzvt2" class="n" transform="translate(620 530)"><ellipse rx="5.5" ry="17"/><text transform="rotate(90)">libzvt2</text></g>
<g id="n-gnome-libs-data" class="n" transform="translate(439 605)"><ellipse rx="5.5" ry="27"/><text transform="rotate(90)">gnome-libs-data</text></g>
<g id="n-libgnomesupport0" class="n" transform="translate(589 607)"><ellipse rx="5.5" ry="30"/><text transform="rotate(90)">libgnomesupport0</text></g>
<g id="n-gnome-bin" class="n" transform="translate(514 637)"><ellipse rx="5.5" ry="18"/><text transform="rotate(90)">gnome-bin</text></g>
<g id="n-python2-1-kjbuckets" class="n" transform="translate(163 307)"><ellipse rx="5.5" ry="30"/><text transform="rotate(90)">python2.1-kjbuckets</text></g>
<g id="n-routeplanner" class="n" transform="translate(200 372)"><ellipse rx="5.5" ry="23"/><text transform="rotate(90)">routeplanner</text></g>
<g id="n-python-pqueue" class="n" transform="translate(147 402)"><ellipse rx="5.5" ry="25"/><text transform="rotate(90)">python-pqueue</text></g>
<g id="n-python-kjbuckets" class="n" transform="translate(238 307)"><ellipse rx="5.5" ry="28"/><text transform="rotate(90)">python-kjbuckets</text></g>
<g id="n-python-xml" class="n" transform="translate(213 420)"><ellipse rx="5.5" ry="21"/><text transform="rotate(90)">python-xml</text></g>
<g id="n-libfox1-dev" class="n" transform="translate(238 370)"><ellipse rx="5.5" ry="18"/><text transform="rotate(90)">libfox1-dev</text></g>
<g id="n-libfox-dev" class="n" transform="translate(238 433)"><ellipse rx="5.5" ry="15"/><text transform="rotate(90)">libfox-dev</text></g>
<g id="n-libfox1-2-5" class="n" transform="translate(238 490)"><ellipse rx="5.5" ry="17"/><text transform="rotate(90)">libfox1.2.5</text></g>
<g id="n-xpdf-utils" class="n" transform="translate(93 365)"><ellipse rx="5.5" ry="15"/><text transform="rotate(90)">xpdf-utils</text></g>
<g id="n-xpdf" class="n" transform="translate(93 417)"><ellipse rx="5.5" ry="10"/><text transform="rotate(90)">xpdf</text></g>
<g id="n-xpdf-reader" class="n" transform="translate(93 470)"><ellipse rx="5.5" ry="20"/><text transform="rotate(90)">xpdf-reader</text></g>
<g id="n-xfonts-thai-manop" class="n" transform="translate(120 383)"><ellipse rx="5.5" ry="30"/><text transform="rotate(90)">xfonts-thai-manop</text></g>
<g id="n-xfonts-thai" class="n" transform="translate(120 457)"><ellipse rx="5.5" ry="15"/><text transform="rotate(90)">xfonts-thai</text></g>
<g id="n-xfonts-thai-etl" class="n" transform="translate(120 517)"><ellipse rx="5.5" ry="25"/><text transform="rotate(90)">xfonts-thai-etl</text></g>
<g id="n-libmime-perl" class="n" transform="translate(146 488)"><ellipse rx="5.5" ry="22"/><text transform="rotate(90)">libmime-perl</text></g>
<g id="n-libmailtools-perl" class="n" transform="translate(215 487)"><ellipse rx="5.5" ry="30"/><text transform="rotate(90)">libmailtools-perl</text></g>
<g id="n-mhc" class="n" transform="translate(180 548)"><ellipse rx="5.5" ry="12"/><text transform="rotate(90)">mhc</text></g>
<g id="n-libmime-base64-perl" class="n" transform="translate(180 601)"><ellipse rx="5.5" ry="29"/><text transform="rotate(90)">libmime-base64-perl</text></g>
<g id="n-qt3-tools" class="n" transform="translate(80 517)"><ellipse rx="5.5" ry="17"/><text transform="rotate(90)">qt3-tools</text></g>
<g id="n-libqt3-dev" class="n" transform="translate(80 570)"><ellipse rx="5.5" ry="18"/><text transform="rotate(90)">libqt3-dev</text></g>
<g id="n-libqt3" class="n" transform="translate(80 625)"><ellipse rx="5.5" ry="13"/><text transform="rotate(90)">libqt3</text></g>
<g id="n-tcpd" class="n" transform="translate(107 572)"><ellipse rx="5.5" ry="11"/><text transform="rotate(90)">tcpd</text></g>
<g id="n-gettext" class="n" transform="translate(107 618)"><ellipse rx="5.5" ry="15"/><text transform="rotate(90)">gettext</text></g>
<g id="n-libpam0g" class="n" transform="translate(107 673)"><ellipse rx="5.5" ry="17"/><text transform="rotate(90)">libpam0g</text></g>
<g id="n-mail-tools" class="n" transform="translate(107 730)"><ellipse rx="5.5" ry="17"/><text transform="rotate(90)">mail-tools</text></g>
<g id="n-util-linux" class="n" transform="translate(80 668)"><ellipse rx="5.5" ry="15"/><text transform="rotate(90)">util-linux</text></g>
<g id="n-procmail" class="n" transform="translate(80 723)"><ellipse rx="5.5" ry="15"/><text transform="rotate(90)">procmail</text></g>
<g id="n-mount" class="n" transform="translate(80 775)"><ellipse rx="5.5" ry="13"/><text transform="rotate(90)">mount</text></g>
<g id="n-libgtop1-0-common" class="n" transform="translate(133 648)"><ellipse rx="5.5" ry="34"/><text transform="rotate(90)">libgtop1.0-common</text></g>
<g id="n-libgtop-common" class="n" transform="translate(171 713)"><ellipse rx="5.5" ry="29"/><text transform="rotate(90)">libgtop-common</text></g>
<g id="n-libgtop1-0-0" class="n" transform="translate(208 648)"><ellipse rx="5.5" ry="22"/><text transform="rotate(90)">libgtop1.0-0</text></g>
<g id="n-libqt3-mt" class="n" transform="translate(198 705)"><ellipse rx="5.5" ry="20"/><text transform="rotate(90)">libqt3-mt</text></g>
<g id="n-gdk-imlib-dev" class="n" transform="translate(267 373)"><ellipse rx="5.5" ry="25"/><text transform="rotate(90)">gdk-imlib-dev</text></g>
<g id="n-libgnome-dev" class="n" transform="translate(267 520)"><ellipse rx="5.5" ry="27"/><text transform="rotate(90)">libgnome-dev</text></g>
<g id="n-libgnorba-dev" class="n" transform="translate(210 560)"><ellipse rx="5.5" ry="20"/><text transform="rotate(90)">libgnorba-dev</text></g>
<g id="n-libart-dev" class="n" transform="translate(322 557)"><ellipse rx="5.5" ry="17"/><text transform="rotate(90)">libart-dev</text></g>
<g id="n-libesd0-dev" class="n" transform="translate(270 582)"><ellipse rx="5.5" ry="21"/><text transform="rotate(90)">libesd0-dev</text></g>
<g id="n-mesag3" class="n" transform="translate(277 462)"><ellipse rx="5.5" ry="15"/><text transform="rotate(90)">mesag3</text></g>
<g id="n-mesag-dev" class="n" transform="translate(328 462)"><ellipse rx="5.5" ry="20"/><text transform="rotate(90)">mesag-dev</text></g>
<g id="n-libgl-dev" class="n" transform="translate(302 505)"><ellipse rx="5.5" ry="15"/><text transform="rotate(90)">libgl-dev</text></g>
<g id="n-zope-cmftopic" class="n" transform="translate(352 467)"><ellipse rx="5.5" ry="24"/><text transform="rotate(90)">zope-cmftopic</text></g>
<g id="n-zope-cmf" class="n" transform="translate(352 618)"><ellipse rx="5.5" ry="15"/><text transform="rotate(90)">zope-cmf</text></g>
<g id="n-zope-cmfdefault" class="n" transform="translate(290 640)"><ellipse rx="5.5" ry="22"/><text transform="rotate(90)">zope-cmfdefault</text></g>
<g id="n-zope-cmfcore" class="n" transform="translate(350 682)"><ellipse rx="5.5" ry="23"/><text transform="rotate(90)">zope-cmfcore</text></g>
<g id="n-zope-cmfcalendar" class="n" transform="translate(412 645)"><ellipse rx="5.5" ry="28"/><text transform="rotate(90)">zope-cmfcalendar</text></g>
<g id="n-kdelibs-bin" class="n" transform="translate(248 567)"><ellipse rx="5.5" ry="18"/><text transform="rotate(90)">kdelibs-bin</text></g>
<g id="n-kdelibs" class="n" transform="translate(248 683)"><ellipse rx="5.5" ry="15"/><text transform="rotate(90)">kdelibs</text></g>
<g id="n-kdelibs-data" class="n" transform="translate(248 737)"><ellipse rx="5.5" ry="20"/><text transform="rotate(90)">kdelibs-data</text></g>
<g id="n-libpres-gui" class="n" transform="translate(297 705)"><ellipse rx="5.5" ry="20"/><text transform="rotate(90)">libpres-gui</text></g>
<g id="n-mozilla-psm" class="n" transform="translate(317 663)"><ellipse rx="5.5" ry="22"/><text transform="rotate(90)">mozilla-psm</text></g>
<g id="n-mozilla" class="n" transform="translate(317 720)"><ellipse rx="5.5" ry="13"/><text transform="rotate(90)">mozilla</text></g>
<g id="n-mozilla-mailnews" class="n" transform="translate(317 784)"><ellipse rx="5.5" ry="28"/><text transform="rotate(90)">mozilla-mailnews</text></g>
<g id="n-sysutils" class="n" transform="translate(356 742)"><ellipse rx="5.5" ry="15"/><text transform="rotate(90)">sysutils</text></g>
<g id="n-sysutils-tools" class="n" transform="translate(383 678)"><ellipse rx="5.5" ry="23"/><text transform="rotate(90)">sysutils-tools</text></g>
<g id="n-syslog-data" class="n" transform="translate(412 743)"><ellipse rx="5.5" ry="23"/><text transform="rotate(90)">syslog-data</text></g>
<g id="n-syslog" class="n" transform="translate(383 792)"><ellipse rx="5.5" ry="14"/><text transform="rotate(90)">syslog</text></g>
<g id="n-libxext-dev" class="n" transform="translate(435 660)"><ellipse rx="5.5" ry="20"/><text transform="rotate(90)">libxext-dev</text></g>
<g id="n-libxpm4-dev" class="n" transform="translate(435 730)"><ellipse rx="5.5" ry="25"/><text transform="rotate(90)">libxpm4-dev</text></g>
<g id="n-libxpm-dev" class="n" transform="translate(435 795)"><ellipse rx="5.5" ry="20"/><text transform="rotate(90)">libxpm-dev</text></g>
<g id="n-libfreetype-dev" class="n" transform="translate(461 655)"><ellipse rx="5.5" ry="24"/><text transform="rotate(90)">libfreetype-dev</text></g>
<g id="n-libgal-dev" class="n" transform="translate(461 722)"><ellipse rx="5.5" ry="22"/><text transform="rotate(90)">libgal-dev</text></g>
<g id="n-libglade-gnome0-dev" class="n" transform="translate(461 787)"><ellipse rx="5.5" ry="27"/><text transform="rotate(90)">libglade-gnome0-dev</text></g>
<g id="n-libgtop1-0-dev" class="n" transform="translate(540 657)"><ellipse rx="5.5" ry="28"/><text transform="rotate(90)">libgtop1.0-dev</text></g>
<g id="n-libgtk1-2-dev" class="n" transform="translate(540 727)"><ellipse rx="5.5" ry="23"/><text transform="rotate(90)">libgtk1.2-dev</text></g>
<g id="n-libglib1-2-dev" class="n" transform="translate(540 793)"><ellipse rx="5.5" ry="20"/><text transform="rotate(90)">libglib1.2-dev</text></g>
<g id="n-koffice" class="n" transform="translate(638 695)"><ellipse rx="5.5" ry="11"/><text transform="rotate(90)">koffice</text></g>
<g id="n-kword" class="n" transform="translate(639 573)"><ellipse rx="5.5" ry="13"/><text transform="rotate(90)">kword</text></g>
<g id="n-kugar" class="n" transform="translate(617 633)"><ellipse rx="5.5" ry="14"/><text transform="rotate(90)">kugar</text></g>
<g id="n-kchart" class="n" transform="translate(662 633)"><ellipse rx="5.5" ry="12"/><text transform="rotate(90)">kchart</text></g>
<g id="n-kformula" class="n" transform="translate(698 668)"><ellipse rx="5.5" ry="17"/><text transform="rotate(90)">kformula</text></g>
<g id="n-kivio" class="n" transform="translate(700 717)"><ellipse rx="5.5" ry="11"/><text transform="rotate(90)">kivio</text></g>
<g id="n-kontour" class="n" transform="translate(670 752)"><ellipse rx="5.5" ry="15"/><text transform="rotate(90)">kontour</text></g>
<g id="n-kspread" class="n" transform="translate(618 757)"><ellipse rx="5.5" ry="14"/><text transform="rotate(90)">kspread</text></g>
<g id="n-kpresenter" class="n" transform="translate(580 722)"><ellipse rx="5.5" ry="20"/><text transform="rotate(90)">kpresenter</text></g>
<g id="n-koshell" class="n" transform="translate(580 665)"><ellipse rx="5.5" ry="15"/><text transform="rotate(90)">koshell</text></g>
<g id="n-printfilters-ppd" class="n" transform="translate(698 600)"><ellipse rx="5.5" ry="25"/><text transform="rotate(90)">printfilters-ppd</text></g>
<g id="n-lprng" class="n" transform="translate(759 600)"><ellipse rx="5.5" ry="12"/><text transform="rotate(90)">lprng</text></g>
<g id="n-printtool" class="n" transform="translate(728 652)"><ellipse rx="5.5" ry="16"/><text transform="rotate(90)">printtool</text></g>
<g id="n-pconf-detect" class="n" transform="translate(728 698)"><ellipse rx="5.5" ry="20"/><text transform="rotate(90)">pconf-detect</text></g>
<g id="n-libgimpprint1" class="n" transform="translate(750 728)"><ellipse rx="5.5" ry="23"/><text transform="rotate(90)">libgimpprint1</text></g>
<g id="n-gimp-common" class="n" transform="translate(807 728)"><ellipse rx="5.5" ry="20"/><text transform="rotate(90)">gimp-common</text></g>
<g id="n-gimp" class="n" transform="translate(778 778)"><ellipse rx="5.5" ry="12"/><text transform="rotate(90)">gimp</text></g>
</svg>
